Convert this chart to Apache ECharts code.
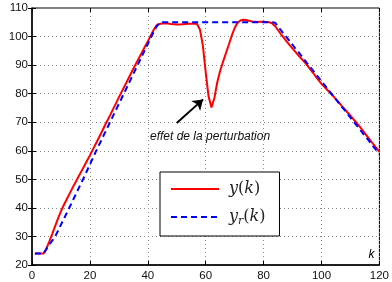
<!DOCTYPE html>
<html>
<head>
<meta charset="utf-8">
<script src="https://cdn.jsdelivr.net/npm/echarts@6/dist/echarts.min.js"></script>
<style>
  html, body { margin: 0; padding: 0; background: #fff; }
  #main { width: 392px; height: 282px; }
</style>
</head>
<body>
<div id="main"></div>
<script>
// sample index k = 1..120
const yValues = [
  24, 24, 24, 24, 25.8, 28.3, 30.9, 33.6, 36.3, 38.8,
  41, 43, 45, 47, 48.9, 50.8, 52.7, 54.6, 56.5, 58.4,
  60.4, 62.4, 64.4, 66.4, 68.5, 70.5, 72.5, 74.6, 76.6, 78.7,
  80.7, 82.7, 84.7, 86.7, 88.7, 90.7, 92.6, 94.5, 96.4, 98.3,
  100.3, 102.3, 103.9, 104.4, 104.6, 104.7, 104.6, 104.4, 104.3, 104.2,
  104.2, 104.3, 104.4, 104.5, 104.5, 104.6, 104.4, 102.5, 97, 87.5,
  79, 75.2, 78.5, 84, 88, 91.2, 94.2, 97.2, 100.3, 103,
  104.8, 105.6, 105.9, 105.8, 105.5, 105.3, 105.2, 105.1, 105.2, 105.2,
  105.1, 105, 104.6, 103.6, 102.2, 100.8, 99.5, 98.2, 97, 95.8,
  94.6, 93.4, 92.3, 91.2, 90, 88.7, 87.4, 86, 84.7, 83.4,
  82.4, 81.3, 80.3, 79.2, 78, 76.9, 75.7, 74.6, 73.4, 72.3,
  71.1, 69.9, 68.7, 67.4, 66.1, 64.8, 63.5, 62.2, 60.9, 59.6
];
const yrValues = [
  24, 24, 24, 24, 25.6, 27.2, 28.5, 30, 32, 34.1,
  36.2, 38.2, 40.3, 42.4, 44.5, 46.6, 48.7, 50.8, 53, 55.2,
  57.4, 59.6, 61.7, 63.8, 65.9, 68, 70.1, 72.2, 74.3, 76.4,
  78.5, 80.6, 82.7, 84.8, 86.9, 89, 91.1, 93.2, 95.3, 97.4,
  99.5, 101.6, 103.5, 104.8, 105, 105, 105, 105, 105, 105,
  105, 105, 105, 105, 105, 105, 105, 105, 105, 105,
  105, 105, 105, 105, 105, 105, 105, 105, 105, 105,
  105, 105, 105, 105, 105, 105, 105, 105, 105, 105,
  105, 105, 105, 104.8, 103.5, 102.2, 100.9, 99.7, 98.4, 97.1,
  95.8, 94.6, 93.3, 92, 90.7, 89.5, 88.2, 86.9, 85.6, 84.4,
  83.1, 81.8, 80.5, 79.3, 78, 76.7, 75.4, 74.2, 72.9, 71.6,
  70.3, 69.1, 67.8, 66.5, 65.2, 64, 62.7, 61.4, 60.1, 58.9
];
const xTicks = [0, 20, 40, 60, 80, 100, 120];
const yTicks = [20, 30, 40, 50, 60, 70, 80, 90, 100, 110];
const annotationText = 'effet de la perturbation';
const arrowFrom = [50, 69.7];
const arrowTo = [59.1, 78];
const textAt = [61.5, 65];

const toPairs = vals => vals.map((v, i) => [i + 1, v]);

const chart = echarts.init(document.getElementById('main'), null, { renderer: 'canvas' });

const tickFont = { fontFamily: 'Liberation Sans', fontSize: 11.5, color: '#111' };
const grid = { type: [1, 3], color: '#8a8a8a', width: 1 };

chart.setOption({
  animation: false,
  grid: { left: 32, right: 8, top: 8, bottom: 16, show: true, borderColor: '#000', borderWidth: 1 },
  xAxis: [
    {
      type: 'value', min: xTicks[0], max: xTicks[xTicks.length - 1], interval: 20,
      axisLine: { lineStyle: { color: '#000', width: 1.5 } },
      axisTick: { inside: true, length: 4, lineStyle: { color: '#000' } },
      axisLabel: Object.assign({ margin: 5 }, tickFont),
      splitLine: { show: true, lineStyle: grid },
      name: 'k', nameLocation: 'end', nameGap: -5,
      nameTextStyle: { fontFamily: 'Liberation Sans', fontStyle: 'italic', fontSize: 12, color: '#000',
        align: 'right', verticalAlign: 'bottom', padding: [0, 0, 4, 0] }
    },
    {
      type: 'value', position: 'top', min: xTicks[0], max: xTicks[xTicks.length - 1], interval: 20,
      axisLine: { show: false }, axisLabel: { show: false }, splitLine: { show: false },
      axisTick: { inside: true, length: 4, lineStyle: { color: '#000' } }
    }
  ],
  yAxis: [
    {
      type: 'value', min: yTicks[0], max: yTicks[yTicks.length - 1], interval: 10,
      axisLine: { show: true, lineStyle: { color: '#000', width: 1.5 } },
      axisTick: { show: true, inside: true, length: 4, lineStyle: { color: '#000' } },
      axisLabel: Object.assign({ margin: 4 }, tickFont),
      splitLine: { show: true, lineStyle: grid }
    },
    {
      type: 'value', position: 'right', min: yTicks[0], max: yTicks[yTicks.length - 1], interval: 10,
      axisLine: { show: false }, axisLabel: { show: false }, splitLine: { show: false },
      axisTick: { show: true, inside: true, length: 4, lineStyle: { color: '#000' } }
    }
  ],
  legend: {
    orient: 'vertical', left: 160, top: 172,
    padding: [9, 14, 9, 10], itemGap: 12,
    itemWidth: 48, itemHeight: 14,
    backgroundColor: '#fff', borderColor: '#000', borderWidth: 1, borderRadius: 0,
    itemStyle: { opacity: 0 },
    data: ['y(k)', 'yr(k)'],
    formatter: name => name === 'y(k)' ? '{i|y}{n|(}{i|k}{n|)}' : '{i|y}{s|r}{n|(}{i|k}{n|)}',
    textStyle: {
      padding: [0, 0, 0, 5],
      rich: {
        i: { fontFamily: 'DejaVu Serif', fontStyle: 'italic', fontSize: 16, color: '#222' },
        n: { fontFamily: 'DejaVu Serif', fontSize: 16, color: '#222' },
        s: { fontFamily: 'DejaVu Serif', fontStyle: 'italic', fontSize: 11, color: '#222', padding: [9, 0, 0, 0] }
      }
    }
  },
  series: [
    {
      name: 'y(k)', type: 'line', data: toPairs(yValues),
      showSymbol: false, symbol: 'none',
      lineStyle: { color: '#f00', width: 2 }, itemStyle: { color: '#f00' },
      markLine: {
        silent: true, symbol: ['none', 'arrow'], symbolSize: 10,
        lineStyle: { color: '#000', width: 2, type: 'solid' },
        itemStyle: { color: '#000' },
        label: { show: false },
        data: [[{ coord: arrowFrom }, { coord: arrowTo }]]
      },
      markPoint: {
        silent: true, symbol: 'circle', symbolSize: 0,
        label: { show: true, position: 'inside', formatter: annotationText,
          fontFamily: 'Liberation Sans', fontStyle: 'italic', fontSize: 12, color: '#111' },
        data: [{ coord: textAt }]
      }
    },
    {
      name: 'yr(k)', type: 'line', data: toPairs(yrValues),
      showSymbol: false, symbol: 'none',
      lineStyle: { color: '#00f', width: 2, type: [6, 4] }, itemStyle: { color: '#00f' }
    }
  ]
});
</script>
</body>
</html>
